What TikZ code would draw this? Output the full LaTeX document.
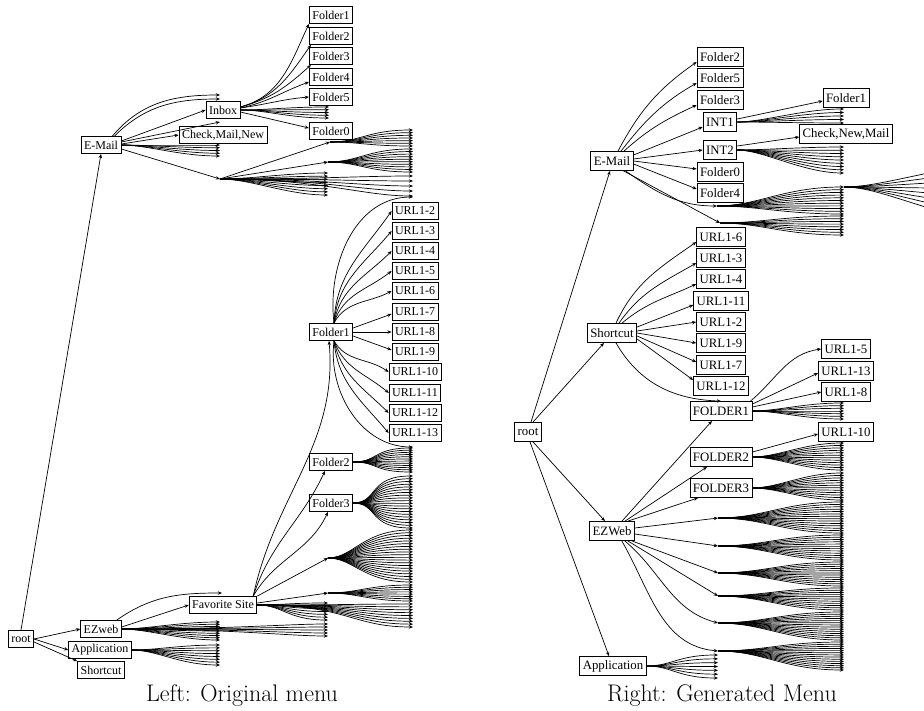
\documentclass[tikz,border=0pt]{standalone}
\usepackage{fontspec}
\newfontfamily\boxfont{Liberation Serif}
\usetikzlibrary{arrows.meta}
\tikzset{
  edge/.style={line width=0.7pt, -{Stealth[length=4.2pt,width=3.4pt]}},
  lbox/.style={draw, line width=0.8pt, fill=white, font=\boxfont\fontsize{12}{12}\selectfont, inner xsep=3pt, inner ysep=1pt, minimum height=17pt},
  rbox/.style={lbox, font=\boxfont\fontsize{12.8}{13}\selectfont, minimum height=19pt},
  caption/.style={font=\fontsize{24}{26}\selectfont}
}
% #1 source, #2 x end, #3 first y, #4 last y, #5 count, #6 prefix, #7 start ctrl, #8 end ctrl
\newcommand{\fanout}[8]{%
  \foreach \i in {1,...,#5}{%
    \pgfmathsetmacro{\yy}{#3+(\i-1)*(#4-#3)/(#5-1)}%
    \coordinate (#6-\i) at (#2,\yy);
    \draw[edge] (#1) .. controls +(#7,0) and +(-#8,0) .. (#6-\i);
  }}
\begin{document}
\begin{tikzpicture}[x=1pt,y=-1pt]
\useasboundingbox (0,0) rectangle (924,711);
\clip (0,0) rectangle (924,711);

% ================= LEFT =================
\node[lbox] (lroot) at (21,639) {root};
\node[lbox] (lezweb) at (101,629) {EZweb};
\node[lbox] (lapp) at (100,650) {Application};
\node[lbox] (lshort) at (101,670) {Shortcut};
\node[lbox] (lemail) at (101,145) {E-Mail};
\node[lbox] (linbox) at (223,110) {Inbox};
\node[lbox] (lcheck) at (223,135) {Check,Mail,New};
\node[lbox] (lfo1) at (331,15) {Folder1};
\node[lbox] (lfo2) at (331,36) {Folder2};
\node[lbox] (lfo3) at (331,56) {Folder3};
\node[lbox] (lfo4) at (331,77) {Folder4};
\node[lbox] (lfo5) at (331,97) {Folder5};
\node[lbox] (lfo0) at (331,131) {Folder0};
\node[lbox] (lfolder1) at (331,332) {Folder1};
\node[lbox] (lfolder2) at (331,462) {Folder2};
\node[lbox] (lfolder3) at (331,503) {Folder3};
\node[lbox] (lfav) at (223,605) {Favorite Site};
\foreach \k/\y in {2/211,3/231,4/251,5/271,6/291,7/312,8/332,9/352,10/372,11/393,12/413,13/433}
  \node[lbox] (lurl\k) at (415,\y) {URL1-\k};
\node[caption] (capL) at (242,696) {Left: Original menu};

\draw[edge] (lroot.north) -- (lemail.south);
\draw[edge] (lroot.east) -- (lezweb.west);
\draw[edge] (lroot.east) -- (lapp.west);
\draw[edge] ([yshift=-3pt]lroot.east) -- (lshort.north west);

\coordinate (lup1) at (220,95);
\coordinate (lup2) at (220,99);
\draw[edge] ([xshift=-9pt]lemail.north east) to[out=50,in=180] (lup1);
\draw[edge] ([xshift=-7pt]lemail.north east) to[out=45,in=180] (lup2);
\draw[edge] ([yshift=4pt]lemail.east) -- (linbox.west);
\coordinate (lst) at (220,122);
\draw[edge] ([yshift=3pt]lemail.east) -- (lst);
\draw[edge] ([yshift=1pt]lemail.east) -- (lcheck.west);
\fanout{lemail.east}{220}{145}{156}{5}{lea}{25}{40}
\coordinate (lp1) at (220,179);
\draw[edge] ([yshift=-4pt]lemail.east) -- (lp1);
\coordinate (lp2) at (330,142);
\coordinate (lp3) at (328,162);
\draw[edge] (lp1) -- (lp2);
\draw[edge] (lp1) -- (lp3);
\fanout{lp1}{328}{173}{195}{8}{lpa}{30}{40}
\fanout{lp2}{413}{130}{146}{7}{lpb}{30}{45}
\fanout{lp3}{413}{149}{172}{10}{lpc}{30}{45}
\fanout{lp1}{413}{176}{196}{5}{lpd}{100}{50}

\draw[edge] ([yshift=3pt]linbox.east) to[out=15,in=245] (lfo1.south west);
\draw[edge] ([yshift=3pt]linbox.east) to[out=15,in=235] ([xshift=2pt]lfo2.south west);
\draw[edge] ([yshift=3pt]linbox.east) to[out=15,in=222] ([xshift=2pt]lfo3.south west);
\draw[edge] ([yshift=2pt]linbox.east) to[out=12,in=200] ([yshift=-5pt]lfo4.west);
\draw[edge] ([yshift=2pt]linbox.east) to[out=8,in=185] (lfo5.west);
\draw[edge] ([yshift=-2pt]linbox.east) -- ([yshift=3pt]lfo0.west);
\fanout{linbox.east}{329}{107}{118}{5}{lib}{25}{40}

\coordinate (lf1t) at ([xshift=3pt]lfolder1.north);
\coordinate (lf1b) at ([xshift=3pt]lfolder1.south);
\coordinate (lf1s1) at (413,197);
\coordinate (lf1s2) at (413,447);
\draw[edge] (lf1t) to[out=97,in=180] (lf1s1);
\foreach \k/\o/\n in {2/88/235,3/85/230,4/80/225,5/73/218,6/62/208}
  \draw[edge] (lf1t) to[out=\o,in=\n] (lurl\k.west);
\draw[edge] ([yshift=4pt]lfolder1.east) -- ([yshift=-2pt]lurl7.west);
\draw[edge] (lfolder1.east) -- (lurl8.west);
\draw[edge] ([yshift=-4pt]lfolder1.east) -- ([yshift=2pt]lurl9.west);
\foreach \k/\o/\n in {10/-60/145,11/-70/140,12/-78/135,13/-85/130}
  \draw[edge] (lf1b) to[out=\o,in=\n] (lurl\k.west);
\draw[edge] (lf1b) to[out=-97,in=180] (lf1s2);

\coordinate (lfavt) at ([xshift=-4pt]lfav.north east);
\draw[edge] (lfavt) to[out=78,in=-85] ([xshift=-2pt]lfolder1.south);
\draw[edge] (lfavt) to[out=72,in=-115] ([xshift=-6pt]lfolder2.south);
\draw[edge] (lfavt) to[out=60,in=-115] ([xshift=-3pt]lfolder3.south);
\coordinate (lp4) at (328,558);
\coordinate (lp5) at (328,593);
\draw[edge] (lfav.north east) -- (lp4);
\draw[edge] ([yshift=2pt]lfav.east) -- (lp5);
\fanout{lfav.east}{328}{603}{620}{7}{lfa}{25}{40}
\fanout{lfav.east}{413}{604}{627}{9}{lfb}{90}{60}

\coordinate (lez1) at (222,593);
\draw[edge] ([xshift=-5pt]lezweb.north east) to[out=35,in=180] (lez1);
\draw[edge] ([yshift=2pt]lezweb.east) -- (lfav.west);
\fanout{lezweb.east}{220}{622}{640}{9}{lezs}{25}{40}
\fanout{lezweb.east}{328}{624}{636}{5}{lezl}{110}{40}
\fanout{lapp.east}{220}{645}{665}{8}{lap}{25}{40}

\fanout{lfolder2.east}{413}{448}{472}{12}{lf2}{25}{40}
\fanout{lfolder3.east}{413}{476}{528}{20}{lf3}{25}{45}
\fanout{lp4}{413}{530}{582}{20}{lf4}{25}{50}
\fanout{lp5}{413}{585}{601}{8}{lf5}{30}{45}

% ================= RIGHT =================
\node[rbox] (rroot) at (528,432) {root};
\node[rbox] (remail) at (612,161) {E-Mail};
\node[rbox] (rfo2) at (720,57) {Folder2};
\node[rbox] (rfo5) at (720,78) {Folder5};
\node[rbox] (rfo3) at (720,100) {Folder3};
\node[rbox] (rint1) at (720,122) {INT1};
\node[rbox] (rint2) at (720,150) {INT2};
\node[rbox] (rfo0) at (720,172) {Folder0};
\node[rbox] (rfo4) at (720,193) {Folder4};
\node[rbox] (rfo1) at (846,98) {Folder1};
\node[rbox] (rcheck) at (846,134) {Check,New,Mail};
\node[rbox] (rshort) at (612,333) {Shortcut};
\foreach \k/\y in {6/237,3/258,4/279,11/301,2/322,9/343,7/365,12/386}
  \node[rbox] (rurl\k) at (721,\y) {URL1-\k};
\node[rbox] (rF1) at (721,411) {FOLDER1};
\node[rbox] (rurl5) at (846,349) {URL1-5};
\node[rbox] (rurl13) at (846,371) {URL1-13};
\node[rbox] (rurl8) at (846,392) {URL1-8};
\node[rbox] (rurl10) at (846,432) {URL1-10};
\node[rbox] (rF2) at (721,457) {FOLDER2};
\node[rbox] (rF3) at (721,488) {FOLDER3};
\node[rbox] (rezweb) at (612,531) {EZWeb};
\node[rbox] (rapp) at (613,666) {Application};
\node[caption] (capR) at (722,696) {Right: Generated Menu};

\draw[edge] ([xshift=3pt]rroot.north) -- ([xshift=-2pt]remail.south);
\draw[edge] ([xshift=5pt]rroot.north) -- ([xshift=-8pt]rshort.south);
\draw[edge] ([xshift=5pt]rroot.south) -- ([xshift=-7pt]rezweb.north);
\draw[edge] ([xshift=2pt]rroot.south) -- ([xshift=-4pt]rapp.north);

\draw[edge] ([xshift=6pt]remail.north) to[out=62,in=215] ([yshift=-5pt]rfo2.west);
\draw[edge] ([xshift=9pt]remail.north) to[out=52,in=210] ([yshift=-5pt]rfo5.west);
\draw[edge] ([xshift=12pt]remail.north) to[out=42,in=205] ([yshift=-5pt]rfo3.west);
\draw[edge] ([yshift=6pt]remail.east) -- ([yshift=-5pt]rint1.west);
\draw[edge] ([yshift=2pt]remail.east) -- (rint2.west);
\draw[edge] (remail.east) -- ([yshift=3pt]rfo0.west);
\draw[edge] ([yshift=-3pt]remail.east) -- ([yshift=4pt]rfo4.west);
\coordinate (rA) at (717,206);
\coordinate (rB) at (720,223);
\draw[edge] ([xshift=-8pt]remail.south east) to[out=-35,in=180] (rA);
\draw[edge] ([xshift=-10pt]remail.south east) -- (rB);

\draw[edge] ([yshift=3pt]rint1.east) -- ([yshift=-3pt]rfo1.west);
\fanout{rint1.east}{844}{109}{123}{5}{ri1}{25}{40}
\draw[edge] ([yshift=4pt]rint2.east) -- ([yshift=-3pt]rcheck.west);
\fanout{rint2.east}{844}{147}{173}{9}{ri2}{25}{40}
\fanout{rA}{844}{187}{214}{11}{ra}{40}{60}
\fanout{rB}{844}{216}{235}{8}{rb}{40}{60}
\fanout{ra-1}{1000}{165}{220}{8}{rc}{40}{60}

\draw[edge] ([xshift=4pt]rshort.north) to[out=65,in=215] ([yshift=-5pt]rurl6.west);
\draw[edge] ([xshift=7pt]rshort.north) to[out=55,in=210] ([yshift=-5pt]rurl3.west);
\draw[edge] ([xshift=10pt]rshort.north) to[out=40,in=205] ([yshift=-5pt]rurl4.west);
\draw[edge] ([yshift=6pt]rshort.east) -- ([yshift=-4pt]rurl11.west);
\draw[edge] ([yshift=2pt]rshort.east) -- (rurl2.west);
\draw[edge] (rshort.east) -- (rurl9.west);
\draw[edge] ([yshift=-3pt]rshort.east) -- ([yshift=3pt]rurl7.west);
\draw[edge] ([yshift=-6pt]rshort.east) -- ([yshift=6pt]rurl12.west);
\draw[edge] ([xshift=4pt]rshort.south) to[out=-60,in=178] (rF1.north);

\draw[edge] ([xshift=-2pt]rF1.north east) to[out=40,in=188] (rurl5.west);
\draw[edge] ([yshift=7pt]rF1.east) -- ([yshift=-2pt]rurl13.west);
\draw[edge] ([yshift=4pt]rF1.east) -- (rurl8.west);
\fanout{rF1.east}{844}{403}{419}{7}{rf1}{25}{40}

\coordinate (rP1) at (718,518);
\coordinate (rP2) at (718,546);
\coordinate (rP3) at (718,573);
\coordinate (rP4) at (718,596);
\coordinate (rP5) at (718,623);
\coordinate (rP6) at (718,651);
\draw[edge] ([xshift=10pt]rezweb.north) -- ([xshift=-9pt]rF1.south);
\draw[edge] ([xshift=13pt]rezweb.north) -- ([xshift=-14pt]rF2.south);
\draw[edge] ([xshift=16pt]rezweb.north) -- ([xshift=-23pt]rF3.south);
\draw[edge] ([yshift=3pt]rezweb.east) -- (rP1);
\draw[edge] ([yshift=-3pt]rezweb.east) -- (rP2);
\draw[edge] ([xshift=-3pt]rezweb.south east) -- (rP3);
\draw[edge] ([xshift=-7pt]rezweb.south east) -- (rP4);
\draw[edge] ([xshift=-10pt]rezweb.south east) to[out=-40,in=165] (rP5);
\draw[edge] ([xshift=-13pt]rezweb.south east) to[out=-60,in=175] (rP6);

\draw[edge] ([yshift=5pt]rF2.east) -- ([yshift=-2pt]rurl10.west);
\fanout{rF2.east}{844}{443}{470}{12}{rf2}{25}{40}
\fanout{rF3.east}{844}{473}{500}{12}{rf3}{25}{40}
\fanout{rP1}{844}{502}{533}{14}{rp1}{45}{60}
\fanout{rP2}{844}{535}{560}{12}{rp2}{45}{60}
\fanout{rP3}{844}{562}{586}{12}{rp3}{45}{60}
\fanout{rP4}{844}{588}{610}{11}{rp4}{45}{60}
\fanout{rP5}{844}{612}{640}{14}{rp5}{45}{60}
\fanout{rP6}{844}{642}{670}{14}{rp6}{45}{60}
\fanout{rapp.east}{718}{655}{678}{7}{rap}{25}{40}
\end{tikzpicture}
\end{document}
